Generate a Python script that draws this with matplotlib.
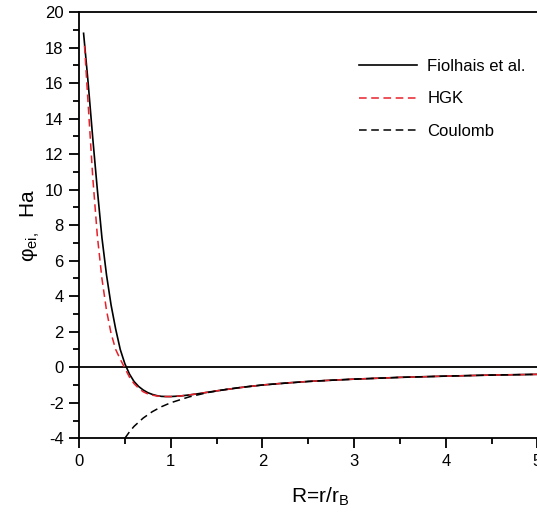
import matplotlib
matplotlib.use("Agg")
import matplotlib.pyplot as plt

plt.rcParams["font.family"] = ["Liberation Sans", "DejaVu Sans"]
plt.rcParams["axes.unicode_minus"] = False

# Fiolhais et al. pseudopotential
r_fiol = [0.05, 0.10, 0.15, 0.20, 0.25, 0.30, 0.35, 0.40, 0.45, 0.50, 0.55, 0.60,
          0.65, 0.70, 0.75, 0.80, 0.85, 0.90, 0.95, 1.00, 1.10, 1.20, 1.30, 1.40,
          1.50, 1.75, 2.00, 2.25, 2.50, 2.75, 3.00, 3.50, 4.00, 4.50, 5.00]
phi_fiol = [18.8, 16.0, 12.9, 10.0, 7.3, 5.2, 3.5, 2.15, 1.0, 0.2, -0.38, -0.8,
            -1.08, -1.28, -1.43, -1.53, -1.60, -1.64, -1.65, -1.65, -1.62, -1.56, -1.49, -1.41,
            -1.33, -1.15, -1.0, -0.89, -0.8, -0.73, -0.67, -0.57, -0.5, -0.44, -0.4]

# HGK
r_hgk = [0.06, 0.10, 0.15, 0.20, 0.25, 0.30, 0.35, 0.40, 0.45, 0.50, 0.55, 0.60,
         0.65, 0.70, 0.75, 0.80, 0.85, 0.90, 0.95, 1.00, 1.10, 1.20, 1.30, 1.40,
         1.50, 1.75, 2.00, 2.25, 2.50, 2.75, 3.00, 3.50, 4.00, 4.50, 5.00]
phi_hgk = [18.1, 14.8, 10.7, 7.4, 5.0, 3.2, 1.9, 1.0, 0.45, -0.05, -0.55, -0.92,
           -1.18, -1.38, -1.50, -1.57, -1.62, -1.64, -1.65, -1.65, -1.62, -1.56, -1.49, -1.41,
           -1.33, -1.15, -1.0, -0.89, -0.8, -0.73, -0.67, -0.57, -0.5, -0.44, -0.4]

# Coulomb tail
r_coul = [0.50, 0.55, 0.60, 0.70, 0.80, 0.90, 1.00, 1.20, 1.40, 1.60, 1.80, 2.00,
          2.50, 3.00, 3.50, 4.00, 4.50, 5.00]
phi_coul = [-4.0, -3.64, -3.33, -2.86, -2.5, -2.22, -2.0, -1.67, -1.43, -1.25, -1.11, -1.0,
            -0.8, -0.67, -0.57, -0.5, -0.44, -0.4]

fig = plt.figure(figsize=(5.37, 5.19), dpi=100)
ax = fig.add_axes([0.1471, 0.1555, 0.8538, 0.8214])

ax.axhline(0, color="black", lw=1.3)
ax.plot(r_fiol, phi_fiol, color="black", lw=1.2, label="Fiolhais et al.")
ax.plot(r_hgk, phi_hgk, color="#e8202a", lw=1.1, dashes=(5, 3), label="HGK")
ax.plot(r_coul, phi_coul, color="black", lw=1.1, dashes=(5, 3), label="Coulomb")

ax.set_xlim(0, 5)
ax.set_ylim(-4, 20)
ax.set_xticks([0, 1, 2, 3, 4, 5])
ax.set_xticks([0.5, 1.5, 2.5, 3.5, 4.5], minor=True)
ax.set_yticks(range(-4, 21, 2))
ax.set_yticks(range(-3, 20, 2), minor=True)
ax.tick_params(which="major", direction="out", length=7, width=1.3, labelsize=12, pad=4)
ax.tick_params(which="minor", direction="out", length=4, width=1.3)
for side in ["left", "bottom", "top"]:
    ax.spines[side].set_linewidth(1.3)
ax.spines["right"].set_visible(False)

ax.set_xlabel("R=r/r$_\\mathregular{B}$", fontsize=15)
ax.xaxis.set_label_coords(0.525, -0.11)
ax.set_ylabel("φ$_\\mathregular{ei,}$  Ha", fontsize=15)
ax.yaxis.set_label_coords(-0.08, 0.5)

ax.legend(loc="upper left", bbox_to_anchor=(0.578, 0.925), frameon=False, fontsize=12,
          handlelength=3.5, handletextpad=0.6, labelspacing=1.05)

fig.savefig("out.png", dpi=100)
